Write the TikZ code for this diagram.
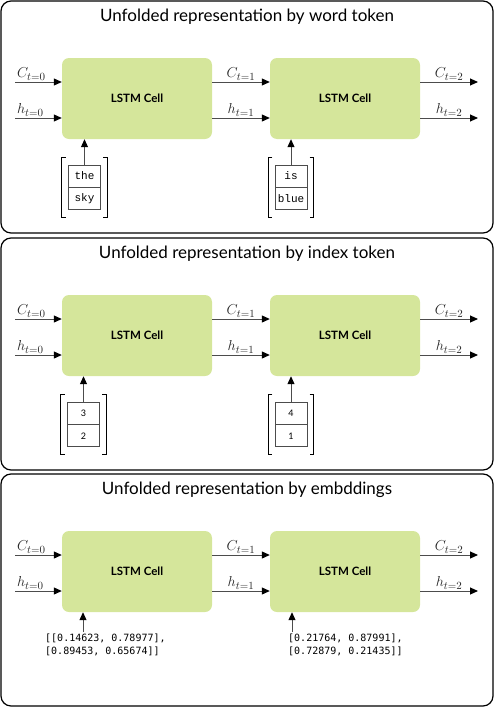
\documentclass[tikz,border=0pt]{standalone}
\usepackage{fontspec}
\setmainfont{Lato}
\newfontfamily\tokfont{Liberation Mono}
\newfontfamily\codefont{DejaVu Sans Mono}
\usetikzlibrary{arrows.meta,positioning,fit}
\definecolor{cellgreen}{HTML}{D5E69B}
\tikzset{
  panel/.style={draw, line width=1.2pt, rounded corners=10pt},
  heading/.style={font=\fontsize{17}{19}\selectfont},
  cell/.style={fill=cellgreen, rounded corners=7pt, minimum width=150pt,
    minimum height=81pt, font=\fontsize{11.5}{13}\selectfont\bfseries},
  flow/.style={-{Triangle[length=8pt,width=7pt,color=black]}, line width=1pt, black!70},
  lbl/.style={font=\fontsize{15.5}{17}\selectfont, inner sep=1.5pt, black!85},
  tok/.style={draw=black!70, line width=0.9pt,
    minimum width=32pt, minimum height=22pt, inner sep=0pt},
  brk/.style={line width=0.8pt},
  vec/.style={inner xsep=6pt, inner ysep=6.5pt},
  emb/.style={font=\codefont\fontsize{10}{13}\selectfont, align=left,
    anchor=north west, inner sep=0pt},
}
\begin{document}
\begin{tikzpicture}[x=1pt,y=-1pt]
  \useasboundingbox (0,0) rectangle (494,707);
  % three panels share the same cells and arrows
  \foreach \oy/\ttl [count=\k] in {0/word token, 237/index token, 473/embddings}{
    \begin{scope}[shift={(0,\oy)}]
      \draw[panel] (1,1) rectangle (493,233);
      \node[heading] (title\k) at (247,17) {Unfolded representation by \ttl};
      \node[cell] (cellA\k) at (137,98.5) {LSTM Cell};
      \node[cell] (cellB\k) at (345,98.5) {LSTM Cell};
      \coordinate (cin\k) at (15,82);
      \coordinate (hin\k) at (15,118);
      \coordinate (cout\k) at (478,82);
      \coordinate (hout\k) at (478,118);
      \draw[flow] (cin\k) -- (cin\k -| cellA\k.west)
        node[lbl, pos=0, above right] {$C_{t=0}$};
      \draw[flow] (hin\k) -- (hin\k -| cellA\k.west)
        node[lbl, pos=0, above right] {$h_{t=0}$};
      \draw[flow] (cellA\k.east |- cin\k) -- (cellB\k.west |- cin\k)
        node[lbl, midway, above] {$C_{t=1}$};
      \draw[flow] (cellA\k.east |- hin\k) -- (cellB\k.west |- hin\k)
        node[lbl, midway, above] {$h_{t=1}$};
      \draw[flow] (cellB\k.east |- cout\k) -- (cout\k)
        node[lbl, midway, above] {$C_{t=2}$};
      \draw[flow] (cellB\k.east |- hout\k) -- (hout\k)
        node[lbl, midway, above] {$h_{t=2}$};
    \end{scope}
  }
  % word tokens
  \node[tok, font=\tokfont\fontsize{11}{12}\selectfont] (the) at (84.5,176) {the};
  \node[tok, font=\tokfont\fontsize{11}{12}\selectfont, below=0pt of the] (sky) {sky};
  \node[tok, font=\tokfont\fontsize{11}{12}\selectfont] (is) at (291,176) {is};
  \node[tok, font=\tokfont\fontsize{11}{12}\selectfont, below=0pt of is] (blue) {blue};
  % index tokens
  \node[tok, font=\fontsize{9}{10}\selectfont] (idx3) at (83.5,413) {3};
  \node[tok, font=\fontsize{9}{10}\selectfont, below=0pt of idx3] (idx2) {2};
  \node[tok, font=\fontsize{9}{10}\selectfont] (idx4) at (291,413) {4};
  \node[tok, font=\fontsize{9}{10}\selectfont, below=0pt of idx4] (idx1) {1};
  % brackets round each stack
  \foreach \a/\b [count=\j] in {the/sky, is/blue, idx3/idx2, idx4/idx1}{
    \node[vec, fit=(\a)(\b)] (vec\j) {};
    \draw[brk] ([xshift=4pt]vec\j.north west) -- (vec\j.north west)
      -- (vec\j.south west) -- ([xshift=4pt]vec\j.south west);
    \draw[brk] ([xshift=-4pt]vec\j.north east) -- (vec\j.north east)
      -- (vec\j.south east) -- ([xshift=-4pt]vec\j.south east);
  }
  \draw[flow] (the.north) -- (the.north |- cellA1.south);
  \draw[flow] (is.north) -- (is.north |- cellB1.south);
  \draw[flow] (idx3.north) -- (idx3.north |- cellA2.south);
  \draw[flow] (idx4.north) -- (idx4.north |- cellB2.south);
  % embeddings
  \node[emb] (embA) at (45,634) {{[[}0.14623, 0.78977],\\{[}0.89453, 0.65674]]};
  \node[emb] (embB) at (288,634) {{[}0.21764, 0.87991],\\{[}0.72879, 0.21435]]};
  \coordinate (inA) at (83,632);
  \coordinate (inB) at (292,632);
  \draw[flow] (inA) -- (inA |- cellA3.south);
  \draw[flow] (inB) -- (inB |- cellB3.south);
\end{tikzpicture}
\end{document}
